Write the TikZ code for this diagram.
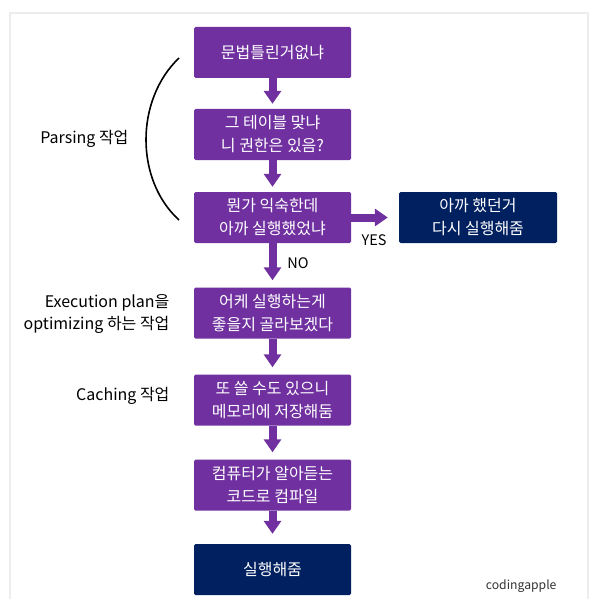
\documentclass[tikz,border=0pt]{standalone}
\usepackage{fontspec}
\setmainfont{Noto Sans CJK KR}
\usetikzlibrary{arrows.meta}
\definecolor{boxpurple}{HTML}{7030A0}
\definecolor{boxnavy}{HTML}{002060}
\begin{document}
\begin{tikzpicture}[x=1pt, y=-1pt,
    stepbox/.style={fill=boxpurple, text=white, rounded corners=1.5pt, minimum width=157pt, minimum height=51pt, align=center, font=\fontsize{16}{23}\selectfont},
    endbox/.style={stepbox, fill=boxnavy},
    flow/.style={draw=boxpurple, line width=8pt, -{Triangle[width=17pt,length=13pt]}, shorten >=7pt},
    side/.style={anchor=east, align=right, font=\fontsize{16}{22}\selectfont}]
            \fill [white] (0, 0) rectangle (592, 599);
            \useasboundingbox (0, 0) rectangle (592, 599);
            \draw [black!7, line width=2pt] (10, 599) -- (10, 13) -- (588, 13) -- (588, 599);
            \node [stepbox] (syntax) at (272.5, 52.5) {문법틀린거없냐};
            \node [stepbox] (table) at (272.5, 134.5) {그 테이블 맞냐\\니 권한은 있음?};
            \node [stepbox] (seen) at (272.5, 217.5) {뭔가 익숙한데\\아까 실행했었냐};
            \node [endbox, minimum width=158pt] (reuse) at (478, 217.5) {아까 했던거\\다시 실행해줌};
            \node [stepbox] (plan) at (272.5, 313) {어케 실행하는게\\좋을지 골라보겠다};
            \node [stepbox] (store) at (272.5, 400) {또 쓸 수도 있으니\\메모리에 저장해둠};
            \node [stepbox] (compile) at (272.5, 485) {컴퓨터가 알아듣는\\코드로 컴파일};
            \node [endbox] (run) at (272.5, 569.5) {실행해줌};
            \draw [flow, shorten >=5pt] (syntax) -- (table);
            \draw [flow, shorten >=5pt] (table) -- (seen);
            \draw [flow, shorten >=11pt] (seen) -- (reuse);
            \draw [flow] (seen) -- (plan);
            \draw [flow] (plan) -- (store);
            \draw [flow] (store) -- (compile);
            \draw [flow, shorten >=10pt] (compile) -- (run);
            \node [font=\fontsize{14.5}{16}\selectfont] (yes) at (374, 240) {YES};
            \node [font=\fontsize{14.5}{16}\selectfont] (no) at (298, 263) {NO};
            \draw [line width=1.6pt] (179, 58) .. controls (135, 100) and (135, 180) .. (179, 220);
            \node [side] (parsing) at (132, 139) {Parsing 작업};
            \node [side] (optimizing) at (173, 314) {Execution plan을\\optimizing 하는 작업};
            \node [side] (caching) at (173, 396) {Caching 작업};
            \node [anchor=east, text=black!80, font=\fontsize{12.2}{14}\selectfont] (brand) at (560, 586) {codingapple};
        \end{tikzpicture}
\end{document}
